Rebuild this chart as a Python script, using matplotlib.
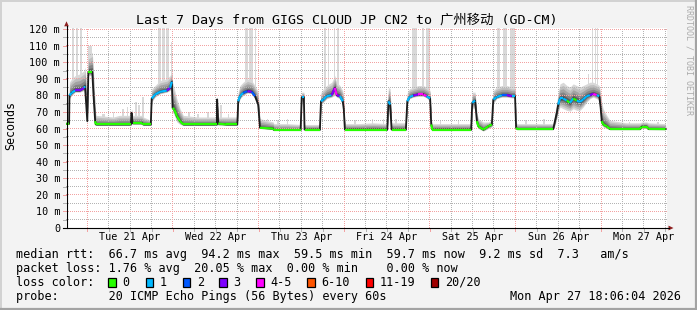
import numpy as np
import matplotlib
matplotlib.use("Agg")
import matplotlib.pyplot as plt
import matplotlib.transforms as mtrans
from matplotlib.collections import LineCollection
from matplotlib.patches import Polygon
from matplotlib.lines import Line2D
from matplotlib.colors import to_rgba

# ---------------- data (hours counted from Mon Apr 20 00:00) ----------------
hours = [18.1, 18.9, 19.0, 19.6, 20.6, 21.9, 23.1, 23.35, 23.6, 24.0,
         24.3, 25.4, 25.7, 26.2, 26.4, 31.3, 33.0, 36.2, 36.4, 36.7,
         39.3, 39.7, 41.8, 42.05, 43.0, 44.4, 46.3, 47.2, 47.7, 47.9,
         48.4, 49.1, 50.0, 50.9, 55.0, 60.3, 60.4, 60.7, 63.0, 66.05,
         66.3, 66.8, 67.7, 68.9, 70.1, 71.0, 71.9, 72.4, 76.1, 76.3,
         80.0, 83.8, 84.1, 84.7, 84.9, 89.2, 89.5, 90.2, 91.1, 92.5,
         93.4, 93.9, 94.8, 95.6, 95.9, 96.2, 100.0, 104.0, 108.1, 108.4,
         108.9, 109.3, 113.3, 113.7, 114.3, 115.4, 116.8, 118.2, 119.1, 120.1,
         120.4, 120.7, 126.0, 131.6, 131.9, 132.7, 133.2, 133.6, 135.0, 136.4,
         137.4, 137.8, 138.7, 140.2, 141.6, 143.0, 143.9, 144.2, 144.5, 150.0,
         154.6, 155.1, 155.6, 156.0, 156.5, 157.4, 158.4, 159.3, 160.2, 161.2,
         162.1, 163.0, 164.0, 164.9, 165.8, 166.8, 167.5, 167.9, 168.2, 168.6,
         169.6, 170.5, 175.0, 178.9, 179.4, 180.8, 181.3, 186.1]

median_ms = [62.9, 63.0, 80.0, 81.6, 83.0, 83.0, 84.6, 85.6, 77.6, 64.5,
             94.1, 94.1, 81.6, 64.5, 62.5, 62.5, 62.5, 62.5, 69.5, 63.3,
             63.3, 62.5, 62.5, 78.2, 80.6, 82.2, 83.0, 84.6, 88.3, 72.5,
             71.5, 67.5, 64.5, 62.5, 62.5, 62.5, 77.6, 63.0, 62.5, 62.5,
             76.5, 79.6, 81.6, 82.6, 82.2, 79.6, 74.5, 60.5, 60.0, 59.2,
             59.2, 59.2, 79.0, 79.0, 59.4, 59.4, 76.5, 77.6, 79.6, 80.2,
             84.6, 80.2, 79.6, 76.5, 71.5, 59.4, 59.4, 59.4, 59.4, 76.5,
             74.5, 59.4, 59.4, 76.5, 79.0, 80.0, 80.6, 80.6, 79.6, 78.2,
             62.5, 59.4, 59.4, 59.4, 75.6, 76.9, 64.5, 61.4, 59.4, 61.4,
             62.5, 77.6, 79.0, 80.2, 80.2, 79.6, 79.6, 60.5, 59.8, 59.8,
             59.8, 64.5, 69.5, 74.5, 78.2, 78.2, 76.9, 75.6, 78.2, 76.9,
             76.1, 77.6, 79.6, 80.2, 81.0, 80.2, 79.6, 72.5, 64.5, 62.5,
             61.4, 59.8, 59.8, 59.8, 61.2, 61.2, 59.8, 59.7]

loss_pings = [0, 0, 1, 1, 3, 3, 1, 1, 1, 0,
              0, 0, 1, 0, 0, 0, 0, 0, 0, 0,
              0, 0, 0, 1, 1, 1, 3, 1, 0, 0,
              0, 0, 0, 0, 0, 0, 0, 0, 0, 0,
              1, 1, 2, 3, 2, 1, 0, 0, 0, 0,
              0, 0, 1, 1, 0, 0, 1, 1, 1, 3,
              4, 3, 1, 1, 0, 0, 0, 0, 0, 1,
              1, 0, 0, 1, 1, 3, 4, 4, 1, 1,
              0, 0, 0, 0, 1, 1, 0, 0, 0, 0,
              0, 1, 1, 2, 3, 1, 1, 0, 0, 0,
              0, 0, 0, 1, 1, 1, 0, 1, 0, 1,
              1, 1, 1, 3, 4, 1, 1, 0, 0, 0,
              0, 0, 0, 0, 0, 0, 0, 0]

smoke_hi_ms = [64, 66, 88, 90, 92, 93, 95, 97, 92, 80,
               104, 106, 96, 75, 68, 67, 68, 68, 72, 68,
               68, 67, 65, 84, 86, 89, 90, 92, 95, 88,
               84, 78, 72, 68, 67, 67, 80, 67, 67, 67,
               82, 86, 88, 90, 89, 86, 82, 66, 64, 63,
               63, 62.5, 82, 82, 62.5, 62.5, 82, 84, 86, 88,
               92, 88, 86, 83, 78, 63, 63, 63.5, 63, 85,
               84, 63.5, 63.5, 82, 84, 85, 86, 86, 85, 83,
               66, 63, 63, 63, 82, 82, 70, 66, 64, 64,
               65, 83, 85, 86, 86, 85, 85, 64, 63, 63,
               63, 70, 76, 82, 87, 88, 86, 85, 87, 86,
               85, 86, 87, 88, 88, 87, 86, 82, 76, 72,
               68, 65, 63.5, 63.5, 64, 64, 63.5, 63]

smoke_lo_ms = [62.5, 62.5, 78, 80, 82, 82, 83, 80, 72, 63,
               92, 92, 72, 62.5, 62, 62, 62, 62, 62.5, 62.5,
               62.5, 62, 62, 76, 79, 81, 82, 83, 84, 70,
               68, 64, 62.5, 62, 62, 62, 62.5, 62, 62, 62,
               74, 78, 80, 81.5, 81, 78, 72, 60, 59.5, 59,
               59, 59, 76, 76, 59, 59, 74, 76, 78, 79,
               80, 79, 78, 74, 68, 59, 59, 59, 59, 72,
               64, 59, 59, 74, 78, 79, 79.5, 79.5, 78.5, 76,
               60, 59, 59, 59, 72, 72, 62, 60, 58.5, 60,
               61, 75, 78, 79, 79, 78.5, 78.5, 60, 59.3, 59.3,
               59.3, 62, 66, 70, 73, 72, 71, 70.5, 72, 71,
               71, 73, 76, 78, 79, 78, 77, 66, 62, 61,
               60, 59.3, 59.3, 59.3, 60, 60, 59.3, 59.3]

# tall single-sample smoke columns (outliers)
spike_hours = [19.9, 21.15, 22.25, 24.85,
               28.5, 31.3, 34.0, 35.2, 37.6, 38.5, 39.6,
               44.2, 45.4, 46.5, 47.6,
               52.5, 55.0, 57.8, 61.5, 63.5,
               68.7, 69.9, 71.1,
               74.5, 77.5, 80.0,
               90.6, 91.6, 93.3, 94.3,
               99.0, 104.0, 107.0, 110.5,
               115.6, 118.0, 119.5,
               123.0, 128.0,
               139.2, 141.1, 143.2,
               147.0, 152.0,
               164.6, 165.5, 166.4, 167.1,
               172.0, 176.0, 184.0]
spike_width_h = [0.6, 0.7, 0.5, 1.1,
                 0.8, 0.4, 0.5, 0.4, 0.4, 0.4, 0.4,
                 0.7, 0.7, 0.9, 0.5,
                 0.4, 0.4, 0.4, 0.4, 0.4,
                 0.8, 0.9, 0.4,
                 0.4, 0.4, 0.3,
                 0.4, 0.4, 0.4, 0.4,
                 0.4, 0.4, 0.3, 0.4,
                 1.4, 0.5, 0.9,
                 0.4, 0.4,
                 0.9, 0.9, 1.2,
                 0.4, 0.4,
                 0.3, 0.3, 0.3, 0.3,
                 0.4, 0.4, 0.4]
spike_top_ms = [125, 125, 125, 110,
                69, 70, 72, 73, 76, 74, 79,
                125, 125, 125, 112,
                70, 69, 70, 74, 69,
                125, 125, 125,
                66, 65, 66,
                125, 125, 125, 125,
                65, 66, 66, 66,
                125, 125, 125,
                65, 65,
                125, 125, 125,
                65, 66,
                93, 125, 125, 125,
                64, 64, 64]

day_tick_hours = [36, 60, 84, 108, 132, 156, 180]
day_labels = ['Tue 21 Apr', 'Wed 22 Apr', 'Thu 23 Apr', 'Fri 24 Apr',
              'Sat 25 Apr', 'Sun 26 Apr', 'Mon 27 Apr']
y_tick_values = [0, 10, 20, 30, 40, 50, 60, 70, 80, 90, 100, 110, 120]
y_tick_labels = ['0', '10 m', '20 m', '30 m', '40 m', '50 m', '60 m',
                 '70 m', '80 m', '90 m', '100 m', '110 m', '120 m']

loss_class_labels = ['0', '1', '2', '3', '4-5', '6-10', '11-19', '20/20']
loss_class_upper = [0, 1, 2, 3, 5, 10, 19, 20]
loss_class_colors = ['#26ff00', '#00b8ff', '#0059ff', '#7e00ff',
                     '#ff00ff', '#ff5500', '#ff0000', '#a10000']

title = 'Last 7 Days from GIGS CLOUD JP CN2 to 广州移动 (GD-CM)'
stat_lines = [
    'median rtt:  66.7 ms avg  94.2 ms max  59.5 ms min  59.7 ms now  9.2 ms sd  7.3   am/s',
    'packet loss: 1.76 % avg  20.05 % max  0.00 % min    0.00 % now',
]
probe_line = 'probe:       20 ICMP Echo Pings (56 Bytes) every 60s'
stamp = 'Mon Apr 27 18:06:04 2026'

# ---------------- figure ----------------
W_PX, H_PX = 697, 310
MONO = 'DejaVu Sans Mono'
fig = plt.figure(figsize=(W_PX / 100, H_PX / 100), dpi=100, facecolor='#f3f3f3')


def fx(x):
    return x / W_PX


def fy(y):
    return 1 - y / H_PX


AX_L, AX_R, AX_B, AX_T = 66, 667, 228, 28
PX_PER_H = 3.5675
PX_PER_MS = 1.6567
ax = fig.add_axes([fx(AX_L), fy(AX_B), (AX_R - AX_L) / W_PX, (AX_B - AX_T) / H_PX])
ax.set_facecolor('white')
x0 = 24 - (87.3 - AX_L) / PX_PER_H
x1 = x0 + (AX_R - AX_L) / PX_PER_H
y1 = (AX_B - AX_T) / PX_PER_MS
ax.set_xlim(x0, x1)
ax.set_ylim(0, y1)
for s in ax.spines.values():
    s.set_visible(False)

h = np.array(hours)
med = np.array(median_ms)
hi = np.array(smoke_hi_ms)
lo = np.array(smoke_lo_ms)

# outlier columns
base = np.interp(spike_hours, h, med)
ax.bar(spike_hours, np.array(spike_top_ms) - base, bottom=base, width=spike_width_h,
       color='#d9d9d9', linewidth=0, zorder=1)

# smoke (graded gray bands around the median)
layers = [(1.0, '#d8d8d8'), (0.8, '#bfbfbf'), (0.6, '#a3a3a3'),
          (0.4, '#858585'), (0.22, '#5e5e5e')]
for f, c in layers:
    ax.fill_between(h, med - f * (med - lo), med + f * (hi - med),
                    color=c, linewidth=0, zorder=2)

# dotted grid, 1 px on / 1 px off, rasterised at pixel level
MAJ, MIN = '#f2a2a2', '#b4b4b4'
NR, NC = AX_B - AX_T, AX_R - AX_L
grid_img = np.zeros((NR, NC, 4))


def put_h(v, color):
    yd = ax.transData.transform((x0, v))[1]
    row = int(np.floor(H_PX - yd)) - AX_T
    if 0 <= row < NR:
        grid_img[row, 0::2] = to_rgba(color)


def put_v(t, color):
    xd = ax.transData.transform((t, 0))[0]
    col = int(np.floor(xd)) - AX_L
    if 0 <= col < NC:
        grid_img[1::2, col] = to_rgba(color)


for v in np.arange(5, 121, 10):
    put_h(v, MIN)
for t in np.arange(24, 187, 6):
    if t % 24:
        put_v(t, MIN)
for v in np.arange(10, 121, 10):
    put_h(v, MAJ)
for t in np.arange(24, 187, 24):
    put_v(t, MAJ)
ax.imshow(grid_img, extent=(x0, x1, 0, y1), origin='upper', interpolation='nearest',
          aspect='auto', zorder=3)
ax.set_xlim(x0, x1)
ax.set_ylim(0, y1)

# median line coloured by loss
ax.plot(h, med, color='#1c1c1c', lw=1.3, zorder=4)


def loss_color(n):
    for up, c in zip(loss_class_upper, loss_class_colors):
        if n <= up:
            return c
    return loss_class_colors[-1]


segs, cols = [], []
for i in range(len(h) - 1):
    if abs(med[i + 1] - med[i]) < 4.5:
        segs.append([(h[i], med[i]), (h[i + 1], med[i + 1])])
        cols.append(loss_color(loss_pings[i]))
ax.add_collection(LineCollection(segs, colors=cols, linewidths=1.6, zorder=5,
                                 capstyle='butt'))

# ticks / labels
ax.set_yticks(y_tick_values, y_tick_labels)
ax.set_xticks(day_tick_hours, day_labels)
ax.tick_params(axis='y', length=0, pad=4.3, labelsize=7.3)
ax.tick_params(axis='x', length=0, pad=2.8, labelsize=7.3)
for lab in ax.get_xticklabels() + ax.get_yticklabels():
    lab.set_family(MONO)

ty = mtrans.blended_transform_factory(ax.transAxes, ax.transData)
tick_w = 3.5 / (AX_R - AX_L)
for v in np.arange(5, 121, 5):
    col = MAJ if v % 10 == 0 else MIN
    ax.plot([-tick_w, 0], [v, v], transform=ty, clip_on=False, color=col,
            lw=0.72, zorder=6)
tx = ax.get_xaxis_transform()
tick_h = 2.5 / (AX_B - AX_T)
for t in np.arange(24, 187, 6):
    col = MAJ if t % 24 == 0 else MIN
    ax.plot([t, t], [-tick_h, 0], transform=tx, clip_on=False, color=col,
            lw=0.72, zorder=6)

# axes with arrows
fig.add_artist(Line2D([fx(62.5), fx(669)], [fy(228.0), fy(228.0)], color='black', lw=0.8))
fig.add_artist(Line2D([fx(66.5), fx(66.5)], [fy(228.0), fy(25.5)], color='black', lw=0.8))
fig.add_artist(Polygon([(fx(64.2), fy(26.3)), (fx(68.8), fy(26.3)), (fx(66.5), fy(21.3))],
                       closed=True, transform=fig.transFigure, color='#8f2020', lw=0))
fig.add_artist(Polygon([(fx(668.5), fy(225.6)), (fx(668.5), fy(230.4)), (fx(673.5), fy(228.0))],
                       closed=True, transform=fig.transFigure, color='#8f2020', lw=0))

# texts
fig.text(fx(347), fy(20), title, family=[MONO, 'Noto Sans CJK SC'], fontsize=9.6,
         ha='center', va='center')
fig.text(fx(10.5), fy(126), 'Seconds', family=MONO, fontsize=8.4, rotation=90,
         ha='center', va='center')
fig.text(fx(688.5), fy(60), 'RRDTOOL / TOBI OETIKER', family=MONO, fontsize=6.0,
         rotation=270, ha='center', va='center', color='#ababab')

FS = 8.44
fig.text(fx(16), fy(254.3), stat_lines[0], family=MONO, fontsize=FS, ha='left', va='center')
fig.text(fx(16), fy(268.3), stat_lines[1], family=MONO, fontsize=FS, ha='left', va='center')
fig.text(fx(16), fy(282.3), 'loss color:', family=MONO, fontsize=FS, ha='left', va='center')
fig.text(fx(16), fy(296.2), probe_line, family=MONO, fontsize=FS, ha='left', va='center')
fig.text(fx(681.5), fy(296.2), stamp, family=MONO, fontsize=FS, ha='right', va='center')

box_x = [108.3, 145.7, 182.7, 219.3, 256.0, 307.3, 365.7, 430.7]
for bx, lab, c in zip(box_x, loss_class_labels, loss_class_colors):
    fig.add_artist(Polygon([(fx(bx), fy(278)), (fx(bx + 7.7), fy(278)),
                            (fx(bx + 7.7), fy(286.7)), (fx(bx), fy(286.7))],
                           closed=True, transform=fig.transFigure, facecolor=c,
                           edgecolor='black', lw=0.9))
    fig.text(fx(bx + 14), fy(282.3), lab, family=MONO, fontsize=FS, ha='left', va='center')

# 3D frame
fig.add_artist(Line2D([0, 1], [fy(0.7), fy(0.7)], color='#d2d2d2', lw=1.4))
fig.add_artist(Line2D([fx(0.7), fx(0.7)], [0, 1], color='#d2d2d2', lw=1.4))
fig.add_artist(Line2D([0, 1], [fy(309.2), fy(309.2)], color='#a3a3a3', lw=1.6))
fig.add_artist(Line2D([fx(696.2), fx(696.2)], [0, 1], color='#a3a3a3', lw=1.6))

fig.savefig('out.png', dpi=100, facecolor=fig.get_facecolor())
